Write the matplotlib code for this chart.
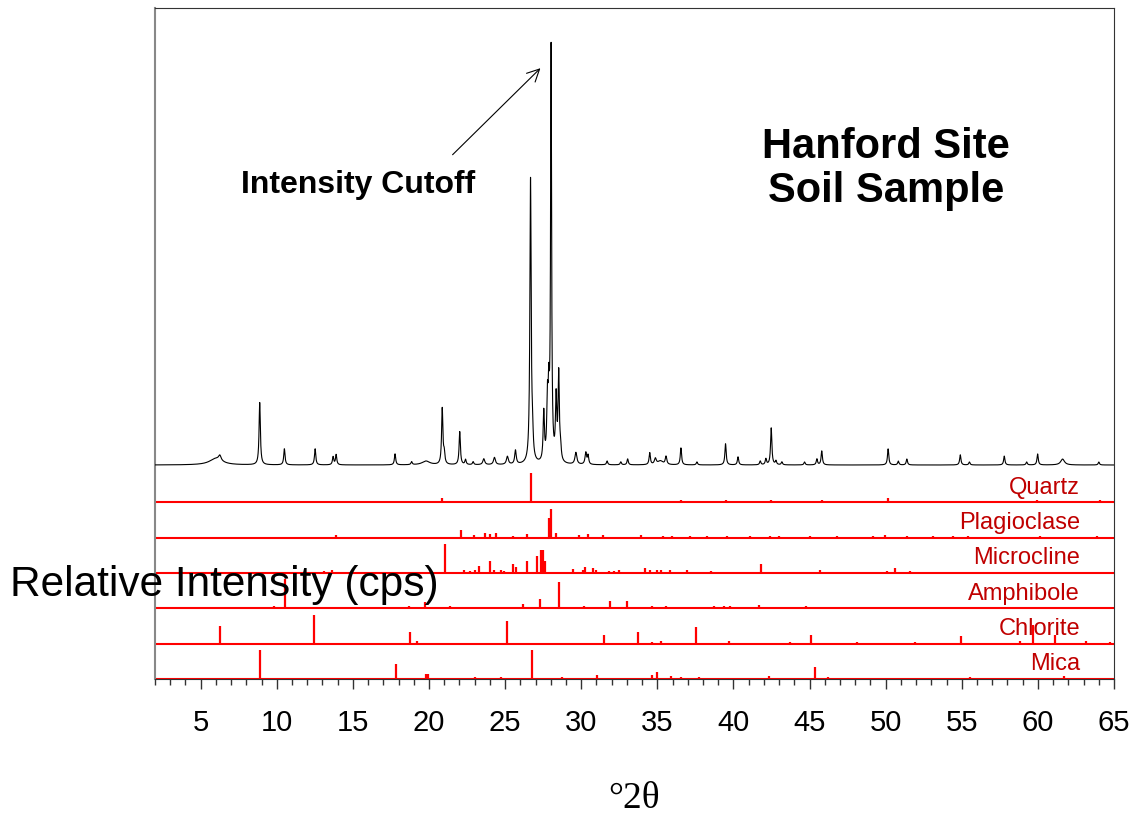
import numpy as np
import matplotlib
matplotlib.use("Agg")
import matplotlib.pyplot as plt

# measured soil pattern: peak table (2theta, relative intensity %, fwhm)
peak_pos = [6.0, 6.26, 8.88, 10.5, 12.52, 13.7, 13.9, 17.77, 18.86, 19.8,
            20.87, 21.0, 22.02, 22.4, 22.9, 23.6, 24.3, 25.15, 25.68, 26.67,
            26.8, 27.54, 27.78, 27.87, 28.02, 28.35, 28.52, 28.64, 29.65, 30.3,
            30.45, 31.7, 32.6, 33.05, 34.5, 34.87, 35.2, 35.57, 36.55, 37.6,
            39.48, 40.3, 41.76, 42.13, 42.48, 42.79, 43.18, 44.67, 45.48, 45.8,
            50.16, 50.83, 51.39, 54.9, 55.5, 57.79, 59.26, 59.98, 61.62, 64.0]
peak_int = [1.5, 1.2, 14.7, 3.8, 3.8, 1.9, 2.4, 2.6, 0.7, 0.9,
            13.2, 2.4, 7.8, 1.2, 0.7, 1.4, 1.7, 1.9, 3.3, 67.0,
            5.0, 11.5, 13.0, 14.0, 97.0, 14.5, 20.5, 3.0, 2.8, 2.8,
            2.1, 0.9, 0.7, 1.4, 2.8, 1.4, 0.9, 1.9, 4.0, 0.7,
            5.0, 1.9, 0.9, 1.4, 8.7, 0.9, 0.7, 0.7, 1.4, 3.3,
            3.8, 0.9, 1.4, 2.4, 0.7, 2.1, 0.7, 2.6, 1.4, 0.7]
peak_fwhm = [1.0, 0.2, 0.1, 0.1, 0.1, 0.1, 0.1, 0.1, 0.1, 0.6,
             0.1, 0.1, 0.1, 0.1, 0.1, 0.15, 0.15, 0.15, 0.12, 0.1,
             0.1, 0.1, 0.1, 0.1, 0.08, 0.1, 0.1, 0.1, 0.15, 0.12,
             0.1, 0.1, 0.1, 0.1, 0.1, 0.15, 0.4, 0.12, 0.1, 0.1,
             0.1, 0.1, 0.1, 0.1, 0.1, 0.1, 0.1, 0.1, 0.1, 0.1,
             0.1, 0.1, 0.1, 0.1, 0.1, 0.1, 0.1, 0.1, 0.3, 0.1]

# reference stick patterns (2theta, relative intensity %)
quartz_pos = [20.87, 26.67, 36.55, 39.53, 40.3, 42.46, 45.8, 50.14, 50.6, 54.9, 57.3, 59.96, 64.07]
quartz_int = [17, 100, 10, 7, 5, 7, 7, 17, 4, 5, 4, 9, 7]

plag_pos = [13.92, 15.12, 22.07, 22.95, 23.67, 24.0, 24.37, 25.53, 25.86, 26.45,
            27.89, 28.02, 28.35, 29.84, 30.45, 31.44, 33.93, 35.37, 35.96, 37.16,
            38.26, 39.57, 41.1, 42.41, 42.96, 45.04, 46.79, 49.19, 49.96, 51.38,
            53.13, 54.44, 55.43, 60.13, 63.85]
plag_int = [9, 3, 28, 9, 16, 14, 17, 7, 3, 12,
            69, 100, 17, 9, 14, 10, 10, 5, 5, 5,
            5, 5, 5, 5, 5, 5, 5, 5, 10, 5,
            5, 5, 5, 5, 5]

micro_pos = [13.1, 13.65, 14.92, 19.34, 21.07, 22.29, 22.68, 23.01, 23.27, 24.04,
             24.3, 24.74, 24.96, 25.53, 25.73, 26.45, 27.1, 27.37, 27.47, 27.59,
             29.47, 30.12, 30.27, 30.78, 30.97, 31.8, 32.13, 32.46, 34.21, 34.54,
             34.98, 35.24, 35.85, 36.95, 37.5, 38.54, 40.23, 41.8, 42.63, 43.5,
             44.17, 44.6, 45.7, 46.14, 47.0, 47.7, 49.0, 49.6, 50.07, 50.6,
             51.16, 51.6, 52.6]
micro_int = [7, 10, 5, 3, 100, 10, 7, 10, 24, 41,
             10, 12, 7, 30, 21, 41, 59, 79, 79, 42,
             14, 10, 20, 18, 10, 7, 7, 10, 18, 10,
             10, 10, 12, 10, 5, 7, 5, 30, 5, 5,
             5, 5, 9, 5, 5, 5, 5, 5, 6, 17,
             5, 6, 5]

amph_pos = [9.82, 10.52, 18.25, 18.68, 19.73, 21.37, 22.99, 26.19, 27.28, 28.55,
            30.17, 31.92, 33.03, 34.65, 35.57, 37.82, 38.74, 39.35, 39.8, 41.65, 44.75]
amph_int = [10, 100, 5, 8, 21, 8, 5, 15, 31, 90,
            10, 25, 25, 10, 8, 5, 9, 7, 7, 13, 9]

chlor_pos = [6.26, 12.47, 18.77, 19.19, 25.11, 31.52, 33.71, 34.65, 35.24, 37.54,
             39.68, 43.73, 45.08, 48.1, 51.93, 54.95, 58.82, 59.69, 61.13, 63.15, 64.72]
chlor_int = [60, 100, 39, 8, 80, 29, 39, 5, 11, 58,
             10, 5, 29, 5, 5, 25, 8, 64, 29, 10, 5]

mica_pos = [8.9, 17.81, 19.8, 19.91, 22.99, 24.76, 26.78, 28.72, 31.04, 34.65,
            34.98, 35.92, 36.55, 37.74, 40.01, 40.6, 41.1, 42.33, 44.05, 45.37,
            46.18, 48.28, 55.54, 56.08, 57.03, 59.58, 60.9, 61.73]
mica_int = [100, 53, 18, 18, 8, 6, 100, 8, 15, 15,
            24, 12, 6, 6, 4, 4, 5, 12, 5, 43,
            8, 4, 8, 5, 5, 5, 5, 11]

phase_names = ["Quartz", "Plagioclase", "Microcline", "Amphibole", "Chlorite", "Mica"]


def main():
    plt.rcParams["font.family"] = ["Liberation Sans", "DejaVu Sans"]

    fig = plt.figure(figsize=(11.37, 8.14), dpi=100)
    ax = fig.add_axes([0.1363, 0.1658, 0.9798 - 0.1363, 0.9902 - 0.1658])

    # build the measured pattern from the peak table
    x = np.arange(2.0, 65.0001, 0.005)
    y = np.zeros_like(x)
    for p, h, w in zip(peak_pos, peak_int, peak_fwhm):
        y += h / (1.0 + ((x - p) / (w / 2.0)) ** 2)
    base = 6.06
    scale = 12.0 / 100.0
    ax.plot(x, base + y * scale, color="black", lw=0.8, zorder=3)

    # stick patterns, one strip each, quartz on top
    sticks = [(quartz_pos, quartz_int), (plag_pos, plag_int), (micro_pos, micro_int),
              (amph_pos, amph_int), (chlor_pos, chlor_int), (mica_pos, mica_int)]
    for i, (name, (pos, inten)) in enumerate(zip(phase_names, sticks)):
        y0 = 5 - i
        ax.axhline(y0, color="#ff0000", lw=1.5, zorder=2)
        ax.vlines(pos, y0, y0 + np.array(inten) * 0.82 / 100.0,
                  color="#ff0000", lw=1.6, zorder=2)
        ax.text(62.76, y0 + 0.42, name, ha="right", va="center",
                fontsize=17, color="#c00000", zorder=1)

    # annotations
    ax.text(50.0, 14.45, "Hanford Site\nSoil Sample", ha="center", va="center",
            fontsize=30, fontweight="bold", linespacing=1.12)
    ax.text(15.32, 13.99, "Intensity Cutoff", ha="center", va="center",
            fontsize=23, fontweight="bold")
    ax.annotate("", xy=(27.45, 17.35), xytext=(21.42, 14.79),
                arrowprops=dict(arrowstyle="->", color="black", lw=0.8, mutation_scale=22))

    # axes styling
    ax.set_xlim(2, 65)
    ax.set_ylim(0, 19.0)
    ax.set_yticks([])
    ax.set_xticks(np.arange(5, 66, 5))
    ax.set_xticks(np.arange(2, 66, 1), minor=True)
    ax.tick_params(axis="x", which="major", direction="out", length=7.5, width=1.0,
                   color="#333333", labelsize=21, pad=14)
    ax.tick_params(axis="x", which="minor", direction="out", length=4.3, width=1.0,
                   color="#333333")
    for side in ["top", "right", "bottom"]:
        ax.spines[side].set_color("#333333")
    ax.spines["left"].set_color("#888888")
    ax.spines["left"].set_linewidth(1.5)

    ax.set_xlabel("°2θ", fontsize=27, family=["Liberation Serif", "DejaVu Serif"])
    ax.xaxis.set_label_coords(0.5, -0.152)

    fig.text(10 / 1137, 1 - 585 / 814, "Relative Intensity (cps)", ha="left", va="center",
             fontsize=30.5, color="black")

    fig.savefig("out.png", dpi=100)


if __name__ == '__main__':
    main()
